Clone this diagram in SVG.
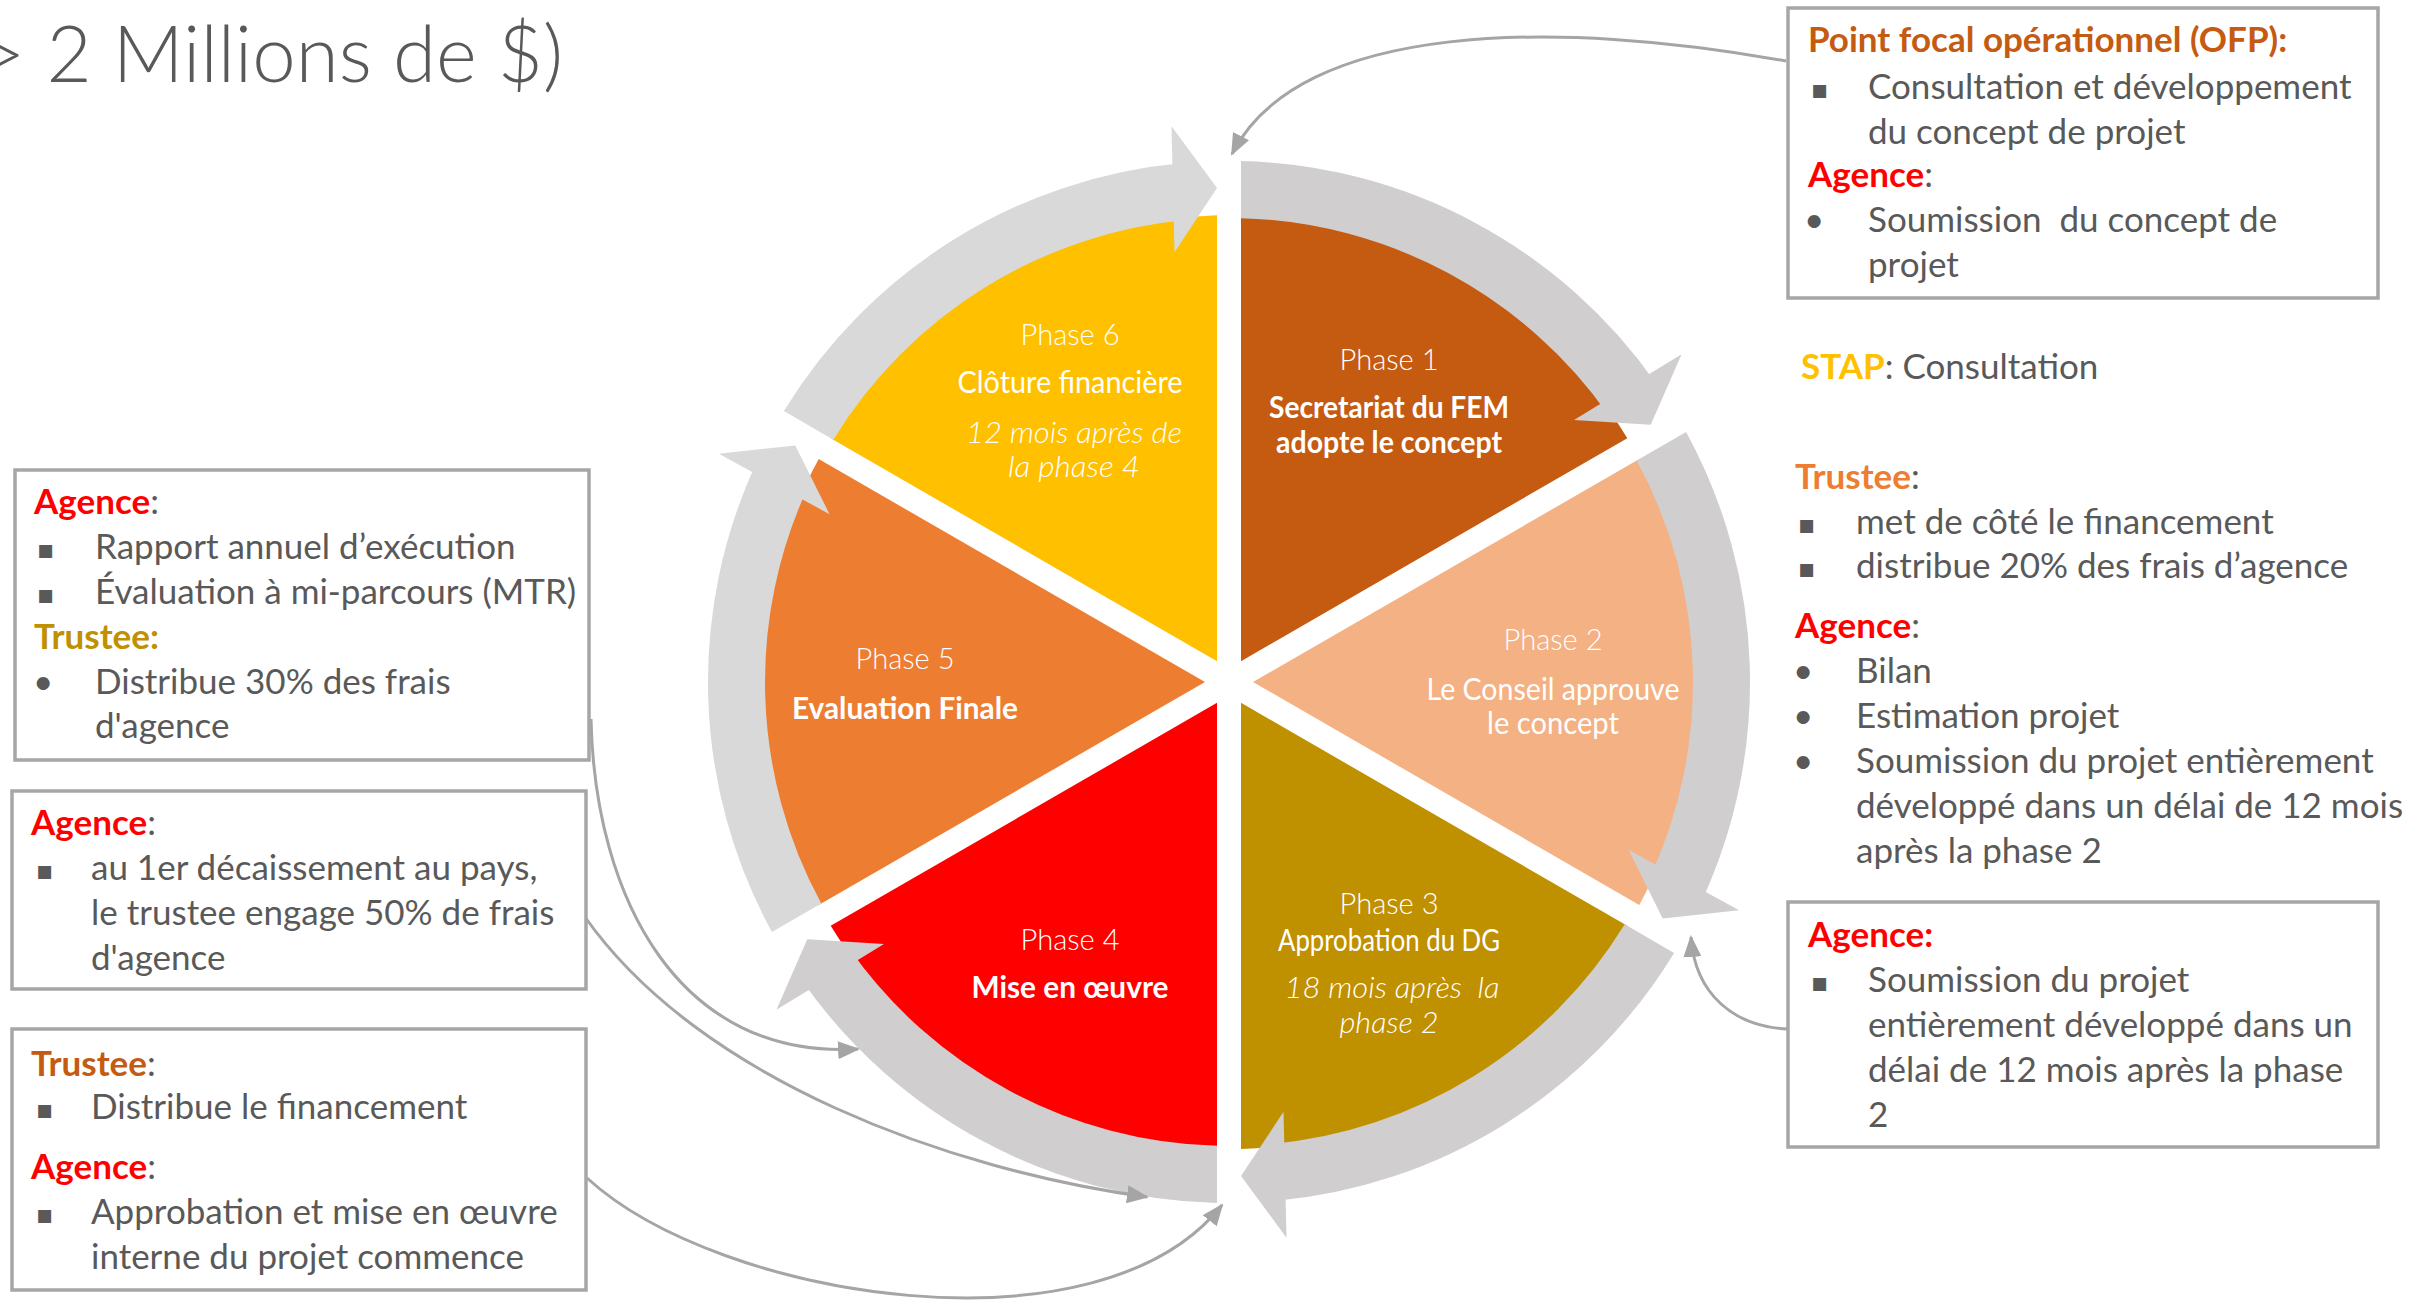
<svg xmlns="http://www.w3.org/2000/svg" width="2431" height="1309" viewBox="0 0 2431 1309">
<style>
.t{font-family:Lato,"Open Sans","Liberation Sans",sans-serif;font-size:35px;fill:#595959}
.b{font-weight:700}
.red{fill:#FF0000}
.sq{font-family:"DejaVu Sans",sans-serif;font-size:26px;fill:#595959}
.box{fill:#fff;stroke:#A6A6A6;stroke-width:3.5}
.w{font-family:Lato,"Open Sans","Liberation Sans",sans-serif;fill:#fff;text-anchor:middle;font-size:30px}
.lt{font-weight:300}
.sb{font-weight:700}
.it{font-style:italic;font-weight:300}
.pre{white-space:pre}
.conn{fill:none;stroke:#A5A5A5;stroke-width:3}
.bd{fill:#D0CECE}
.bl{fill:#D9D9D9}
</style>
<defs>
<marker id="ah" markerWidth="22" markerHeight="18" refX="20" refY="9" orient="auto" markerUnits="userSpaceOnUse">
<path d="M0,0 L22,9 L0,18 Z" fill="#A5A5A5"/>
</marker>
</defs>
<rect width="2431" height="1309" fill="#fff"/>
<text class="t lt" x="-20" y="82" style="font-size:78px">&gt; 2 Millions de $)</text>

<g id="phase1">
<path d="M1241 661.2 L1241 215.2 A467 467 0 0 1 1627.3 438.2 Z" fill="#C55A11"/>
<path class="bd" d="M1241 161.1 A521 521 0 0 1 1655.8 383.2 L1609.1 415.9 A464 464 0 0 0 1241 218.2 Z"/>
<path class="bd" d="M1650.7 424.7 L1681.6 354.3 L1574 419.9 Z"/>
<text class="w lt" x="1389" y="370" textLength="99" lengthAdjust="spacingAndGlyphs">Phase 1</text>
<text class="w sb" x="1389" y="418" textLength="240" lengthAdjust="spacingAndGlyphs">Secretariat du FEM</text>
<text class="w sb" x="1389" y="453" textLength="226" lengthAdjust="spacingAndGlyphs">adopte le concept</text>
</g>
<g id="phase2">
<path d="M1253 682 L1639.3 459 A467 467 0 0 1 1639.3 905 Z" fill="#F4B183"/>
<path class="bd" d="M1686.1 432 A521 521 0 0 1 1701.2 902.2 L1649.5 878.1 A464 464 0 0 0 1636.7 460.5 Z"/>
<path class="bd" d="M1662.7 918.6 L1739.1 910.2 L1628.5 849.8 Z"/>
<text class="w lt" x="1553" y="650" textLength="99" lengthAdjust="spacingAndGlyphs">Phase 2</text>
<text class="w" x="1553" y="700" textLength="253" lengthAdjust="spacingAndGlyphs">Le Conseil approuve</text>
<text class="w" x="1553" y="734" textLength="132" lengthAdjust="spacingAndGlyphs">le concept</text>
</g>
<g id="phase3">
<path d="M1241 702.8 L1627.3 925.8 A467 467 0 0 1 1241 1148.9 Z" fill="#BF9000"/>
<path class="bd" d="M1674.1 952.9 A521 521 0 0 1 1274.4 1201 L1269.4 1144.2 A464 464 0 0 0 1624.7 924.3 Z"/>
<path class="bd" d="M1241 1175.9 L1286.5 1237.8 L1283.5 1111.8 Z"/>
<text class="w lt" x="1389" y="914" textLength="99" lengthAdjust="spacingAndGlyphs">Phase 3</text>
<text class="w" x="1389" y="951" textLength="222" lengthAdjust="spacingAndGlyphs">Approbation du DG</text>
<text class="w it pre" x="1392" y="998" textLength="215" lengthAdjust="spacingAndGlyphs">18 mois après  la</text>
<text class="w it" x="1389" y="1033" textLength="99" lengthAdjust="spacingAndGlyphs">phase 2</text>
</g>
<g id="phase4">
<path d="M1217 702.8 L1217 1148.9 A467 467 0 0 1 830.7 925.8 Z" fill="#FF0000"/>
<path class="bd" d="M1217 1202.9 A521 521 0 0 1 802.2 980.8 L848.9 948.1 A464 464 0 0 0 1217 1145.8 Z"/>
<path class="bd" d="M807.3 939.3 L776.4 1009.7 L884 944.1 Z"/>
<text class="w lt" x="1070" y="950" textLength="99" lengthAdjust="spacingAndGlyphs">Phase 4</text>
<text class="w b" x="1070" y="998" textLength="197" lengthAdjust="spacingAndGlyphs">Mise en œuvre</text>
</g>
<g id="phase5">
<path d="M1205 682 L818.7 905 A467 467 0 0 1 818.7 459 Z" fill="#ED7D31"/>
<path class="bl" d="M771.9 932 A521 521 0 0 1 756.8 461.8 L808.5 485.9 A464 464 0 0 0 821.3 903.5 Z"/>
<path class="bl" d="M795.3 445.4 L718.9 453.8 L829.5 514.2 Z"/>
<text class="w lt" x="905" y="669" textLength="99" lengthAdjust="spacingAndGlyphs">Phase 5</text>
<text class="w b" x="905" y="719" textLength="226" lengthAdjust="spacingAndGlyphs">Evaluation Finale</text>
</g>
<g id="phase6">
<path d="M1217 661.2 L830.7 438.2 A467 467 0 0 1 1217 215.2 Z" fill="#FFC000"/>
<path class="bl" d="M783.9 411.1 A521 521 0 0 1 1183.6 163 L1188.6 219.8 A464 464 0 0 0 833.3 439.7 Z"/>
<path class="bl" d="M1217 188.1 L1171.5 126.2 L1174.5 252.2 Z"/>
<text class="w lt" x="1070" y="345" textLength="99" lengthAdjust="spacingAndGlyphs">Phase 6</text>
<text class="w" x="1070" y="393" textLength="225" lengthAdjust="spacingAndGlyphs">Clôture financière</text>
<text class="w it" x="1074" y="443" textLength="216" lengthAdjust="spacingAndGlyphs">12 mois après de</text>
<text class="w it" x="1074" y="477" textLength="132" lengthAdjust="spacingAndGlyphs">la phase 4</text>
</g>

<g id="connectors">
<path class="conn" marker-end="url(#ah)" d="M1786 61 C1560 20 1300 20 1232 154"/>
<path class="conn" marker-end="url(#ah)" d="M1788 1029 C1735 1027 1695 995 1691 937"/>
<path class="conn" marker-end="url(#ah)" d="M591 719 C595 900 680 1060 858 1049"/>
<path class="conn" marker-end="url(#ah)" d="M585 917 C700 1080 950 1170 1147 1197"/>
<path class="conn" marker-end="url(#ah)" d="M587 1178 C720 1300 1100 1360 1222 1205"/>
</g>

<g id="box-ofp">
<rect class="box" x="1788" y="8" width="590" height="290"/>
<text class="t b" x="1808" y="52" style="fill:#C55A11">Point focal opérationnel (OFP):</text>
<text class="sq" x="1811" y="98">▪</text>
<text class="t" x="1868" y="99">Consultation et développement</text>
<text class="t" x="1868" y="144">du concept de projet</text>
<text class="t" x="1808" y="187"><tspan class="b red">Agence</tspan>:</text>
<text class="t" x="1804" y="232">•</text>
<text class="t pre" x="1868" y="232">Soumission  du concept de</text>
<text class="t" x="1868" y="277">projet</text>
</g>

<g id="stap">
<text class="t" x="1801" y="379"><tspan class="b" style="fill:#FFC000">STAP</tspan>: Consultation</text>
</g>

<g id="phase2-roles">
<text class="t" x="1795" y="489"><tspan class="b" style="fill:#ED7D31">Trustee</tspan>:</text>
<text class="sq" x="1798" y="533">▪</text>
<text class="t" x="1856" y="534">met de côté le financement</text>
<text class="sq" x="1798" y="577">▪</text>
<text class="t" x="1856" y="578">distribue 20% des frais d’agence</text>
<text class="t" x="1795" y="638"><tspan class="b red">Agence</tspan>:</text>
<text class="t" x="1793" y="683">•</text>
<text class="t" x="1856" y="683">Bilan</text>
<text class="t" x="1793" y="728">•</text>
<text class="t" x="1856" y="728">Estimation projet</text>
<text class="t" x="1793" y="773">•</text>
<text class="t" x="1856" y="773">Soumission du projet entièrement</text>
<text class="t" x="1856" y="818">développé dans un délai de 12 mois</text>
<text class="t" x="1856" y="863">après la phase 2</text>
</g>

<g id="box-phase3">
<rect class="box" x="1788" y="902" width="590" height="245"/>
<text class="t b red" x="1808" y="947">Agence:</text>
<text class="sq" x="1811" y="991">▪</text>
<text class="t" x="1868" y="992">Soumission du projet</text>
<text class="t" x="1868" y="1037">entièrement développé dans un</text>
<text class="t" x="1868" y="1082">délai de 12 mois après la phase</text>
<text class="t" x="1868" y="1127">2</text>
</g>

<g id="box-phase5">
<rect class="box" x="15" y="470" width="574" height="290"/>
<text class="t" x="34" y="514"><tspan class="b red">Agence</tspan>:</text>
<text class="sq" x="37" y="558">▪</text>
<text class="t" x="95" y="559">Rapport annuel d’exécution</text>
<text class="sq" x="37" y="603">▪</text>
<text class="t" x="95" y="604">Évaluation à mi-parcours (MTR)</text>
<text class="t b" x="34" y="649" style="fill:#BF9000">Trustee:</text>
<text class="t" x="33" y="694">•</text>
<text class="t" x="95" y="694">Distribue 30% des frais</text>
<text class="t" x="95" y="738">d'agence</text>
</g>

<g id="box-phase4a">
<rect class="box" x="12" y="791" width="574" height="198"/>
<text class="t" x="31" y="835"><tspan class="b red">Agence</tspan>:</text>
<text class="sq" x="36" y="879">▪</text>
<text class="t" x="91" y="880">au 1er décaissement au pays,</text>
<text class="t" x="91" y="925">le trustee engage 50% de frais</text>
<text class="t" x="91" y="970">d'agence</text>
</g>

<g id="box-phase4b">
<rect class="box" x="12" y="1029" width="574" height="261"/>
<text class="t" x="31" y="1076"><tspan class="b" style="fill:#C55A11">Trustee</tspan>:</text>
<text class="sq" x="36" y="1118">▪</text>
<text class="t" x="91" y="1119">Distribue le financement</text>
<text class="t" x="31" y="1179"><tspan class="b red">Agence</tspan>:</text>
<text class="sq" x="36" y="1223">▪</text>
<text class="t" x="91" y="1224">Approbation et mise en œuvre</text>
<text class="t" x="91" y="1269">interne du projet commence</text>
</g>
</svg>
